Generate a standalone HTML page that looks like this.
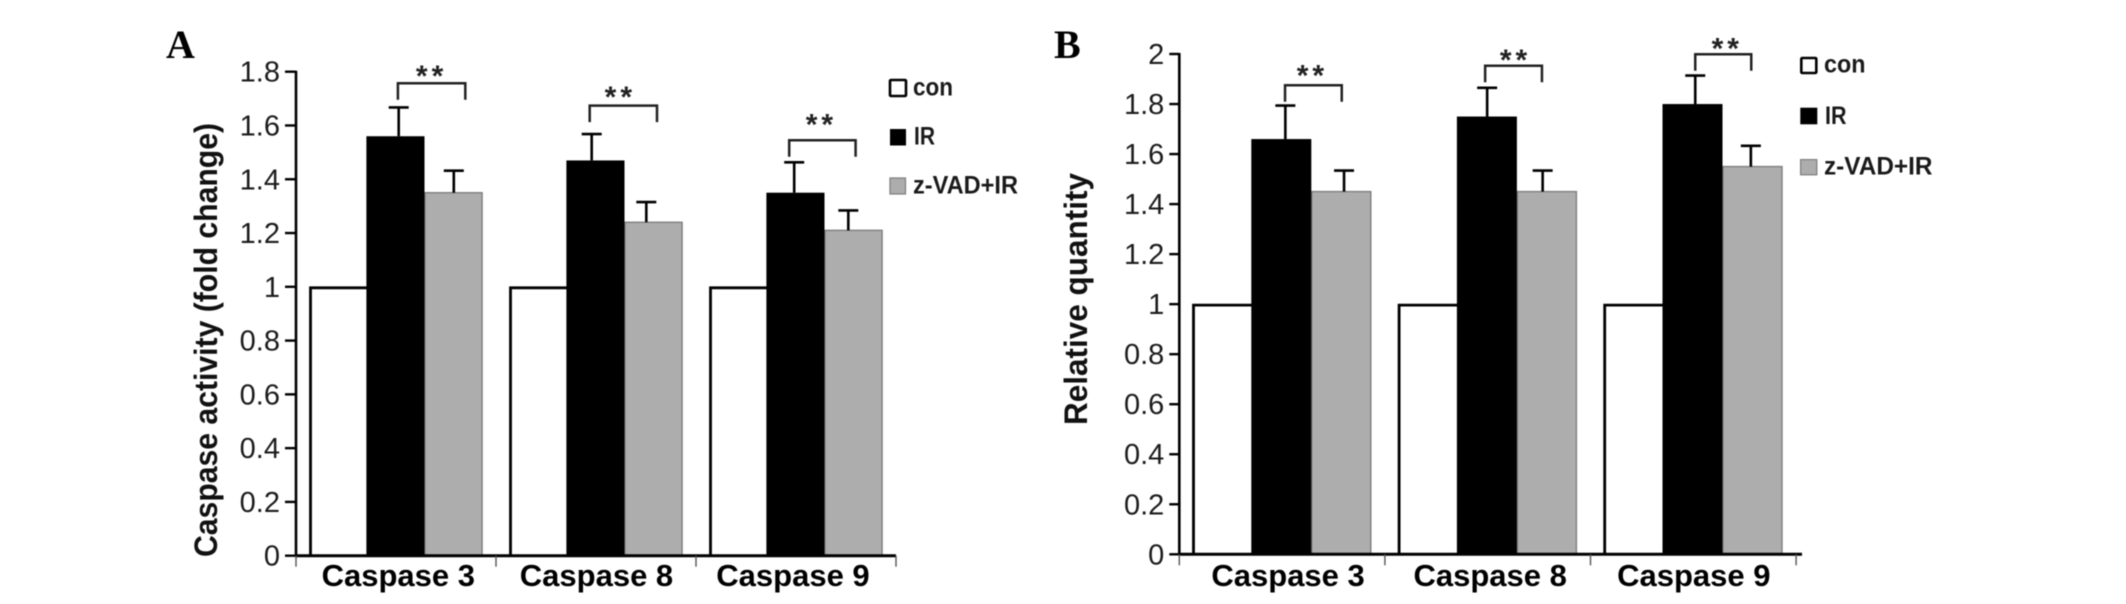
<!DOCTYPE html>
<html lang="en">
<head>
<meta charset="utf-8">
<title>Caspase activity and relative quantity</title>
<style>
  html, body { margin: 0; padding: 0; background: #fff; }
  body { width: 2126px; height: 604px; overflow: hidden; }
  svg { display: block; filter: blur(0.4px); }
  text { fill: #111; }
  .tick-label { font-family: "Liberation Sans", sans-serif; font-size: 29px; text-anchor: end; fill: #1c1c1c; }
  .axis-title { font-family: "Liberation Sans", sans-serif; font-size: 32px; font-weight: bold; }
  .cat-label { font-family: "Liberation Sans", sans-serif; font-size: 31px; font-weight: bold; text-anchor: middle; fill: #000; }
  .legend-label { font-family: "Liberation Sans", sans-serif; font-size: 25px; font-weight: bold; fill: #1a1a1a; }
  .stars { font-family: "Liberation Sans", sans-serif; font-size: 30px; font-weight: bold; letter-spacing: 4px; text-anchor: middle; fill: #222; }
  .panel-letter { font-family: "Liberation Serif", serif; font-size: 40px; font-weight: bold; fill: #000; }
</style>
</head>
<body>
<svg id="figure" xmlns="http://www.w3.org/2000/svg" width="2126" height="604" viewBox="0 0 2126 604">
  <rect x="0" y="0" width="2126" height="604" fill="#ffffff"/>
  <text class="panel-letter" x="166" y="58">A</text>
  <text class="panel-letter" x="1054" y="58">B</text>
  <text class="axis-title" transform="translate(217,557) rotate(-90)" textLength="434" lengthAdjust="spacingAndGlyphs">Caspase activity (fold change)</text>
  <text class="axis-title" transform="translate(1087,425) rotate(-90)" textLength="252" lengthAdjust="spacingAndGlyphs">Relative quantity</text>

  <g>
    <rect x="890" y="80" width="16" height="16" fill="#fff" stroke="#000" stroke-width="2.6" rx="1"/>
    <text class="legend-label" x="913" y="95.5" textLength="40" lengthAdjust="spacingAndGlyphs">con</text>
    <rect x="890" y="129" width="16" height="16.5" fill="#000"/>
    <text class="legend-label" x="914" y="144.3" textLength="21" lengthAdjust="spacingAndGlyphs">IR</text>
    <rect x="890" y="178" width="15.5" height="16" fill="#adadad" stroke="#7d7d7d" stroke-width="1.2"/>
    <text class="legend-label" x="913" y="193.3" textLength="105" lengthAdjust="spacingAndGlyphs">z-VAD+IR</text>
  </g>

  <g>
    <rect x="1801.3" y="58" width="15" height="15" fill="#fff" stroke="#000" stroke-width="2.6" rx="1"/>
    <text class="legend-label" x="1824" y="72.7" textLength="41.5" lengthAdjust="spacingAndGlyphs">con</text>
    <rect x="1800.3" y="107.7" width="17" height="16.6" fill="#000"/>
    <text class="legend-label" x="1825" y="124" textLength="21.5" lengthAdjust="spacingAndGlyphs">IR</text>
    <rect x="1800.6" y="159.6" width="16.2" height="15.2" fill="#adadad" stroke="#7d7d7d" stroke-width="1.2"/>
    <text class="legend-label" x="1824" y="174.7" textLength="108.5" lengthAdjust="spacingAndGlyphs">z-VAD+IR</text>
  </g>
</svg>

<script>
// ---- Chart data ----
const categories = ['Caspase 3', 'Caspase 8', 'Caspase 9'];

const ticksA = ['0', '0.2', '0.4', '0.6', '0.8', '1', '1.2', '1.4', '1.6', '1.8'];
const conA = [1, 1, 1];
const irA = [1.56, 1.47, 1.35];
const zvadA = [1.35, 1.24, 1.21];
const irErrA = [0.107, 0.098, 0.113];
const zvadErrA = [0.082, 0.075, 0.074];
const bracketLevelA = [1.757, 1.674, 1.545];

const ticksB = ['0', '0.2', '0.4', '0.6', '0.8', '1', '1.2', '1.4', '1.6', '1.8', '2'];
const conB = [1, 1, 1];
const irB = [1.66, 1.75, 1.80];
const zvadB = [1.45, 1.45, 1.55];
const irErrB = [0.134, 0.115, 0.114];
const zvadErrB = [0.084, 0.084, 0.083];
const bracketLevelB = [1.875, 1.953, 1.999];

// ---- Drawing ----
const NS = 'http://www.w3.org/2000/svg';
const figure = document.getElementById('figure');

function mk(tag, geometry, parent) {
  const el = document.createElementNS(NS, tag);
  for (const k in geometry) el.setAttribute(k, geometry[k]);
  parent.appendChild(el);
  return el;
}

function drawPanel(id, d, g) {
  const root = mk('g', {}, figure);
  
  

  const maxTick = parseFloat(d.ticks[d.ticks.length - 1]);
  const yOf = function (v) { return g.y0 - (v / maxTick) * (g.y0 - g.yTop); };
  const catX = function (i) { return g.x0 + i * g.catW; };
  const barX = function (i, s) { return catX(i) + g.barOffset + s * g.barW; };

  // bars
  categories.forEach(function (cat, i) {
    const conTop = yOf(d.con[i]);
    const con = mk('path', {
      d: 'M' + (barX(i, 0) + 1.2) + ' ' + g.y0 + 'V' + (conTop + 1) + 'H' + barX(i, 1),
      fill: '#fff', stroke: '#000', 'stroke-width': 2.8
    }, root);
    
    

    const gray = mk('rect', {
      x: barX(i, 2) + 0.5, y: yOf(d.zvad[i]),
      width: g.barW - 0.5, height: g.y0 - yOf(d.zvad[i]),
      fill: '#adadad', stroke: '#7f7f7f', 'stroke-width': 1.4
    }, root);
    
    

    const black = mk('rect', {
      x: barX(i, 1) - 0.5, y: yOf(d.ir[i]),
      width: g.barW + 0.5, height: g.y0 - yOf(d.ir[i]),
      fill: '#000'
    }, root);
    
    

    // error bars
    const irErrX = barX(i, 1) + g.barW / 2 + g.irErrShift[i];
    const irCap = yOf(d.ir[i] + d.irErr[i]);
    const errIr = mk('path', {
      d: 'M' + irErrX + ' ' + yOf(d.ir[i]) + 'V' + irCap + 'M' + (irErrX - 10) + ' ' + irCap + 'H' + (irErrX + 10),
      fill: 'none', stroke: '#000', 'stroke-width': 2.6
    }, root);
    
    

    const zvErrX = barX(i, 2) + g.barW / 2 + g.zvErrShift[i];
    const zvCap = yOf(d.zvad[i] + d.zvadErr[i]);
    const errZv = mk('path', {
      d: 'M' + zvErrX + ' ' + yOf(d.zvad[i]) + 'V' + zvCap + 'M' + (zvErrX - 10) + ' ' + zvCap + 'H' + (zvErrX + 10),
      fill: 'none', stroke: '#000', 'stroke-width': 2.6
    }, root);
    
    

    // significance bracket
    const bTop = yOf(d.bracket[i]);
    const bLeft = barX(i, 1) + g.barW / 2 + g.bracketLeftShift[i];
    const bRight = barX(i, 2) + g.barW / 2 + g.bracketRightShift[i];
    const bracket = mk('path', {
      d: 'M' + bLeft + ' ' + (bTop + 16.5) + 'V' + bTop + 'H' + bRight + 'V' + (bTop + 16.5),
      fill: 'none', stroke: '#222', 'stroke-width': 2.5
    }, root);
    
    

    const stars = mk('text', {
      class: 'stars',
      x: (bLeft + bRight) / 2 + g.starShiftX[i] + 2,
      y: bTop - g.starRise[i] + 14
    }, root);
    stars.textContent = '**';
    
    

    // category label
    const label = mk('text', {
      class: 'cat-label',
      x: catX(i) + g.catW / 2 + g.catLabelShift[i],
      y: 586
    }, root);
    label.textContent = cat;
    
    
  });

  // y axis and ticks
  const yAxis = mk('line', {
    x1: g.x0, x2: g.x0, y1: g.yTop - 1, y2: g.y0 + 1,
    stroke: '#000', 'stroke-width': 2.6
  }, root);
  
  

  d.ticks.forEach(function (t) {
    const v = parseFloat(t);
    const tick = mk('line', {
      x1: g.x0 - g.tickLen, x2: g.x0, y1: yOf(v), y2: yOf(v),
      stroke: '#000', 'stroke-width': 2.4
    }, root);
    
    

    const label = mk('text', { class: 'tick-label', x: g.x0 - g.tickLen - 5, y: yOf(v) + 10 }, root);
    label.textContent = t;
    
    
  });

  // x axis and category separators
  const xAxis = mk('line', {
    x1: g.x0 - 1, x2: g.xEnd, y1: g.y0, y2: g.y0,
    stroke: '#000', 'stroke-width': 3
  }, root);
  
  

  for (let i = 0; i <= categories.length; i++) {
    const sep = mk('line', {
      x1: catX(i), x2: catX(i), y1: g.y0, y2: g.y0 + 11,
      stroke: '#555', 'stroke-width': 1.4
    }, root);
    
    
  }
}

drawPanel('a',
  { ticks: ticksA, con: conA, ir: irA, zvad: zvadA, irErr: irErrA, zvadErr: zvadErrA, bracket: bracketLevelA },
  {
    x0: 296, xEnd: 896, y0: 555.7, yTop: 71.7, catW: 200, barOffset: 13.3, barW: 57.6, tickLen: 11,
    irErrShift: [3, -4, -1.5], zvErrShift: [0.5, -7, -5],
    bracketLeftShift: [2.2, -6, -6.5], bracketRightShift: [12, 3.7, 2.3],
    starShiftX: [-2, -5, -3], starRise: [11.3, 12.7, 20],
    catLabelShift: [2.3, 0.5, -3]
  });

drawPanel('b',
  { ticks: ticksB, con: conB, ir: irB, zvad: zvadB, irErr: irErrB, zvadErr: zvadErrB, bracket: bracketLevelB },
  {
    x0: 1179.3, xEnd: 1802, y0: 554.3, yTop: 54, catW: 205.6, barOffset: 13, barW: 59.5, tickLen: 10,
    irErrShift: [3.8, 0, 2.5], zvErrShift: [3, -4, -1.4],
    bracketLeftShift: [3.5, -2, 2.5], bracketRightShift: [0.7, -4.7, -1],
    starShiftX: [-3, 0, 2], starRise: [13.6, 9.7, 10],
    catLabelShift: [6, 2.5, 0.5]
  });
</script>
</body>
</html>
